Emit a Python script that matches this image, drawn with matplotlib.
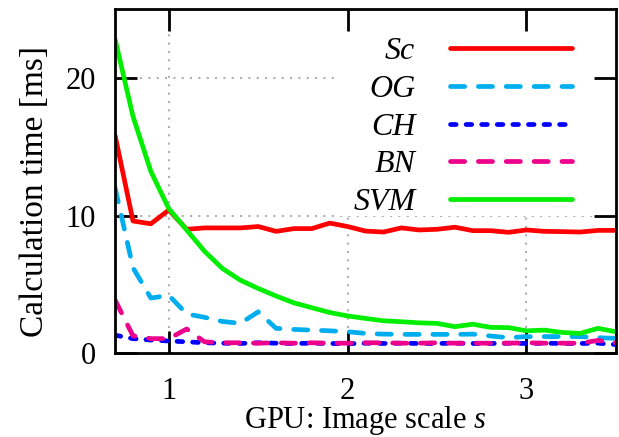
import matplotlib
matplotlib.use("Agg")
import matplotlib.pyplot as plt
from matplotlib.patches import Rectangle

plt.rcParams["font.family"] = ["Liberation Serif", "DejaVu Serif"]
plt.rcParams["mathtext.fontset"] = "custom"
plt.rcParams["mathtext.rm"] = "Liberation Serif"
plt.rcParams["mathtext.it"] = "Liberation Serif:italic"

# image scale s
scale = [0.7, 0.8, 0.9, 1.0, 1.1, 1.2, 1.3, 1.4, 1.5, 1.6, 1.7, 1.8, 1.9, 2.0, 2.1,
         2.2, 2.3, 2.4, 2.5, 2.6, 2.7, 2.8, 2.9, 3.0, 3.1, 3.2, 3.3, 3.4, 3.5]

# calculation time [ms]
sc = [15.8, 9.6, 9.4, 10.4, 9.0, 9.1, 9.1, 9.1, 9.2, 8.85, 9.05, 9.05, 9.45, 9.2, 8.87,
      8.8, 9.1, 8.95, 9.0, 9.15, 8.9, 8.9, 8.78, 8.95, 8.85, 8.83, 8.8, 8.92, 8.92]
og = [12.0, 6.2, 4.0, 4.2, 2.85, 2.6, 2.3, 2.16, 3.0, 1.8, 1.72, 1.67, 1.62, 1.55, 1.43,
      1.38, 1.36, 1.36, 1.36, 1.36, 1.38, 1.24, 1.12, 1.2, 1.2, 1.2, 1.2, 1.12, 1.07]
ch = [1.3, 1.05, 0.95, 0.88, 0.82, 0.75, 0.72, 0.7, 0.75, 0.72, 0.7, 0.72, 0.7, 0.68, 0.72,
      0.7, 0.72, 0.7, 0.7, 0.72, 0.7, 0.7, 0.72, 0.7, 0.72, 0.7, 0.7, 0.72, 0.62]
bn = [3.85, 1.25, 1.05, 1.05, 1.75, 0.82, 0.75, 0.75, 0.72, 0.75, 0.72, 0.75, 0.72, 0.72, 0.75,
      0.75, 0.72, 0.72, 0.75, 0.72, 0.72, 0.72, 0.72, 0.75, 0.72, 0.72, 0.72, 0.92, 0.75]
svm = [22.8, 17.2, 13.2, 10.5, 8.95, 7.4, 6.15, 5.3, 4.7, 4.15, 3.65, 3.3, 2.95, 2.7, 2.52,
       2.35, 2.28, 2.2, 2.16, 1.92, 2.1, 1.87, 1.85, 1.62, 1.67, 1.5, 1.43, 1.8, 1.55]

x_ticks = [1, 2, 3]
y_ticks = [0, 10, 20]

series = [
    ("Sc", sc, "#ff0000", "-"),
    ("OG", og, "#00aeef", (0, (3.0, 2.9))),
    ("CH", ch, "#0000ff", (0, (1.2, 2.1))),
    ("BN", bn, "#ec008c", (0, (3.0, 2.9))),
    ("SVM", svm, "#00ee00", "-"),
]

fig = plt.figure(figsize=(6.19, 4.37), dpi=100)
ax = fig.add_axes([0.186, 0.192, 0.809, 0.787])

for label, values, color, style in series:
    ax.plot(scale, values, color=color, linestyle=style, linewidth=3.4,
            dash_capstyle="round", solid_capstyle="round", label=label, zorder=2)

# dotted grid, hidden behind the key area
for xt in x_ticks:
    ax.axvline(xt, color="#b0b0b0", linewidth=1.5, linestyle=(0, (1, 3)), zorder=0.5)
for yt in y_ticks[1:]:
    ax.axhline(yt, color="#b0b0b0", linewidth=1.5, linestyle=(0, (1, 3)), zorder=0.5)
ax.add_patch(Rectangle((0.439, 0.398), 0.561, 0.602, transform=ax.transAxes,
                       facecolor="white", edgecolor="none", zorder=1))

ax.set_xlim(0.7, 3.5)
ax.set_ylim(0, 25)
ax.set_xticks(x_ticks)
ax.set_yticks(y_ticks)
ax.tick_params(direction="in", length=16, width=2, top=True, right=True,
               labelsize=22)
ax.tick_params(axis="y", pad=14)
ax.tick_params(axis="x", pad=17)
for sp in ax.spines.values():
    sp.set_linewidth(2)

ax.set_xlabel("GPU: Image scale $s$", fontsize=22, va="bottom")
ax.xaxis.set_label_coords(0.5, -0.2445)
ax.set_ylabel("Calculation time [ms]", fontsize=24)
ax.yaxis.set_label_coords(-0.13, 0.47)

ax.legend(loc="upper right", bbox_to_anchor=(0.912, 0.919), frameon=False,
          markerfirst=False, handlelength=3.8, handletextpad=1.1, labelspacing=0.26,
          borderpad=0, borderaxespad=0,
          prop={"family": "Liberation Serif", "style": "italic", "size": 23})

fig.savefig("out.png", dpi=100)
